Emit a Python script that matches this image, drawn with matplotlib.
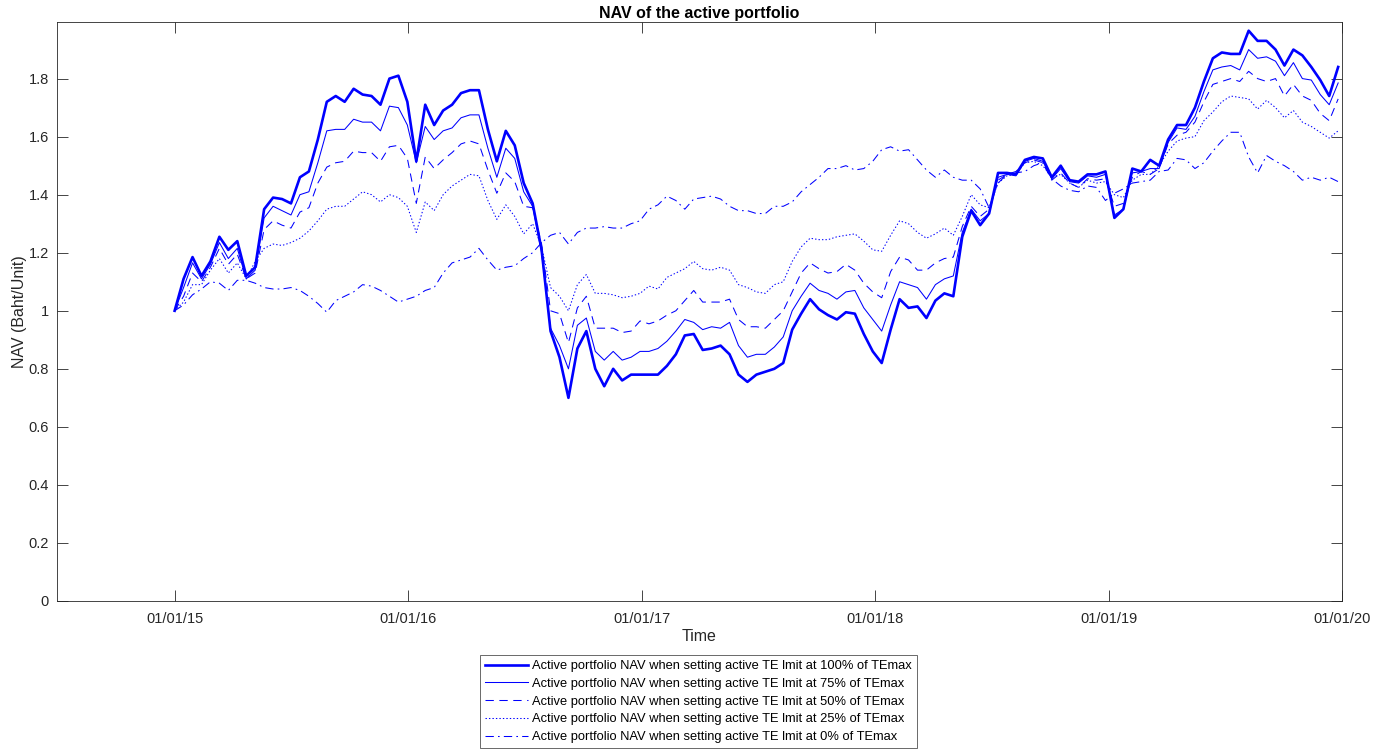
import numpy as np
import pandas as pd
import matplotlib
matplotlib.use("Agg")
import matplotlib.pyplot as plt
import matplotlib.dates as mdates

plt.rcParams["font.family"] = ["Liberation Sans", "DejaVu Sans"]
plt.rcParams["lines.scale_dashes"] = False

# fortnightly NAV observations
dates = pd.date_range("2015-01-01", periods=131, freq="14D")

nav_100 = [1.00, 1.11, 1.185, 1.12, 1.17, 1.255, 1.21, 1.24, 1.12, 1.15,
           1.35, 1.39, 1.385, 1.37, 1.46, 1.48, 1.59, 1.72, 1.74, 1.72,
           1.765, 1.745, 1.74, 1.71, 1.80, 1.81, 1.72, 1.515, 1.71, 1.64,
           1.69, 1.71, 1.75, 1.76, 1.76, 1.625, 1.515, 1.62, 1.57, 1.44,
           1.37, 1.21, 0.93, 0.84, 0.70, 0.87, 0.93, 0.80, 0.74, 0.80,
           0.76, 0.78, 0.78, 0.78, 0.78, 0.81, 0.85, 0.915, 0.92, 0.865,
           0.87, 0.88, 0.85, 0.78, 0.755, 0.78, 0.79, 0.80, 0.82, 0.935,
           0.99, 1.04, 1.005, 0.985, 0.97, 0.995, 0.99, 0.92, 0.86, 0.82,
           0.935, 1.04, 1.01, 1.015, 0.975, 1.035, 1.06, 1.05, 1.255, 1.345,
           1.295, 1.335, 1.475, 1.475, 1.47, 1.52, 1.53, 1.525, 1.46, 1.50,
           1.45, 1.445, 1.47, 1.47, 1.48, 1.32, 1.35, 1.49, 1.48, 1.52,
           1.50, 1.59, 1.64, 1.64, 1.70, 1.79, 1.87, 1.89, 1.885, 1.885,
           1.965, 1.93, 1.93, 1.90, 1.845, 1.90, 1.88, 1.84, 1.795, 1.74,
           1.84]

nav_75 = [1.00, 1.08, 1.165, 1.11, 1.16, 1.235, 1.18, 1.215, 1.11, 1.14,
          1.32, 1.36, 1.345, 1.33, 1.40, 1.41, 1.51, 1.62, 1.625, 1.625,
          1.66, 1.65, 1.65, 1.62, 1.705, 1.70, 1.64, 1.51, 1.635, 1.59,
          1.62, 1.63, 1.665, 1.675, 1.675, 1.56, 1.46, 1.56, 1.525, 1.41,
          1.36, 1.20, 0.94, 0.88, 0.80, 0.95, 0.975, 0.86, 0.83, 0.86,
          0.83, 0.84, 0.86, 0.86, 0.87, 0.895, 0.93, 0.97, 0.96, 0.935,
          0.945, 0.94, 0.96, 0.88, 0.84, 0.85, 0.85, 0.875, 0.91, 1.00,
          1.05, 1.095, 1.07, 1.06, 1.04, 1.065, 1.07, 1.01, 0.97, 0.93,
          1.02, 1.10, 1.09, 1.08, 1.04, 1.09, 1.11, 1.12, 1.27, 1.35,
          1.31, 1.335, 1.46, 1.47, 1.465, 1.515, 1.525, 1.515, 1.455, 1.49,
          1.445, 1.44, 1.465, 1.46, 1.47, 1.33, 1.35, 1.475, 1.48, 1.49,
          1.49, 1.58, 1.63, 1.625, 1.67, 1.755, 1.83, 1.84, 1.845, 1.83,
          1.90, 1.87, 1.875, 1.86, 1.81, 1.855, 1.80, 1.795, 1.745, 1.71,
          1.785]

nav_50 = [1.00, 1.05, 1.13, 1.10, 1.15, 1.215, 1.16, 1.195, 1.11, 1.13,
          1.28, 1.31, 1.295, 1.285, 1.34, 1.355, 1.44, 1.495, 1.51, 1.515,
          1.55, 1.545, 1.545, 1.515, 1.565, 1.57, 1.525, 1.37, 1.53, 1.49,
          1.52, 1.545, 1.575, 1.585, 1.575, 1.485, 1.405, 1.475, 1.445, 1.36,
          1.355, 1.23, 1.00, 0.99, 0.89, 1.01, 1.05, 0.94, 0.94, 0.94,
          0.925, 0.93, 0.965, 0.955, 0.965, 0.985, 1.00, 1.035, 1.07, 1.03,
          1.03, 1.03, 1.04, 0.97, 0.945, 0.945, 0.94, 0.97, 1.00, 1.065,
          1.13, 1.165, 1.145, 1.13, 1.135, 1.16, 1.14, 1.095, 1.065, 1.045,
          1.135, 1.185, 1.175, 1.14, 1.14, 1.165, 1.18, 1.185, 1.29, 1.36,
          1.325, 1.35, 1.45, 1.47, 1.48, 1.51, 1.52, 1.51, 1.45, 1.475,
          1.44, 1.425, 1.455, 1.45, 1.455, 1.36, 1.37, 1.46, 1.48, 1.47,
          1.49, 1.575, 1.605, 1.615, 1.65, 1.72, 1.78, 1.79, 1.80, 1.79,
          1.825, 1.80, 1.79, 1.80, 1.74, 1.78, 1.74, 1.725, 1.68, 1.655,
          1.73]

nav_25 = [1.00, 1.03, 1.09, 1.09, 1.14, 1.18, 1.13, 1.165, 1.11, 1.17,
          1.215, 1.23, 1.225, 1.235, 1.25, 1.275, 1.31, 1.35, 1.36, 1.36,
          1.385, 1.41, 1.40, 1.375, 1.40, 1.39, 1.36, 1.27, 1.375, 1.345,
          1.40, 1.43, 1.45, 1.47, 1.465, 1.38, 1.315, 1.365, 1.325, 1.265,
          1.30, 1.22, 1.08, 1.05, 1.00, 1.09, 1.125, 1.06, 1.06, 1.055,
          1.045, 1.05, 1.06, 1.085, 1.075, 1.115, 1.13, 1.145, 1.17, 1.145,
          1.14, 1.15, 1.14, 1.09, 1.08, 1.065, 1.06, 1.09, 1.10, 1.17,
          1.22, 1.25, 1.245, 1.245, 1.255, 1.26, 1.265, 1.24, 1.21, 1.205,
          1.26, 1.31, 1.30, 1.27, 1.25, 1.265, 1.285, 1.26, 1.325, 1.40,
          1.365, 1.355, 1.44, 1.465, 1.47, 1.51, 1.515, 1.50, 1.46, 1.47,
          1.44, 1.425, 1.45, 1.44, 1.445, 1.40, 1.39, 1.45, 1.47, 1.47,
          1.50, 1.55, 1.585, 1.595, 1.60, 1.655, 1.685, 1.72, 1.74, 1.735,
          1.73, 1.695, 1.725, 1.70, 1.665, 1.69, 1.65, 1.635, 1.615, 1.595,
          1.62]

nav_0 = [1.00, 1.02, 1.055, 1.075, 1.10, 1.095, 1.07, 1.105, 1.105, 1.095,
         1.08, 1.075, 1.075, 1.08, 1.07, 1.05, 1.025, 0.995, 1.035, 1.05,
         1.065, 1.09, 1.085, 1.07, 1.05, 1.03, 1.04, 1.05, 1.07, 1.08,
         1.13, 1.165, 1.175, 1.185, 1.215, 1.175, 1.14, 1.15, 1.155, 1.18,
         1.20, 1.235, 1.26, 1.27, 1.23, 1.27, 1.285, 1.285, 1.29, 1.285,
         1.285, 1.30, 1.31, 1.35, 1.365, 1.395, 1.38, 1.35, 1.385, 1.39,
         1.395, 1.385, 1.36, 1.345, 1.345, 1.335, 1.335, 1.36, 1.36, 1.375,
         1.41, 1.435, 1.46, 1.49, 1.49, 1.50, 1.485, 1.49, 1.515, 1.555,
         1.565, 1.55, 1.555, 1.52, 1.485, 1.46, 1.485, 1.46, 1.45, 1.45,
         1.42, 1.355, 1.44, 1.47, 1.475, 1.48, 1.50, 1.51, 1.455, 1.43,
         1.415, 1.41, 1.43, 1.425, 1.38, 1.405, 1.42, 1.44, 1.445, 1.45,
         1.48, 1.485, 1.525, 1.52, 1.49, 1.51, 1.55, 1.585, 1.615, 1.615,
         1.53, 1.475, 1.535, 1.515, 1.50, 1.48, 1.45, 1.46, 1.45, 1.46,
         1.445]

te_levels = ["100%", "75%", "50%", "25%", "0%"]
series = [nav_100, nav_75, nav_50, nav_25, nav_0]

styles = [
    dict(linestyle="-", linewidth=1.9),
    dict(linestyle="-", linewidth=0.75),
    dict(linestyle=(0, (6, 4)), linewidth=0.75),
    dict(linestyle=(0, (1, 1.5)), linewidth=0.75),
    dict(linestyle=(0, (6, 3, 1.2, 3)), linewidth=0.75),
]

fig = plt.figure(figsize=(13.89, 7.52), dpi=100)
ax = fig.add_axes([57 / 1389, 1 - 601 / 752, 1285 / 1389, 579 / 752])

for vals, lvl, st in zip(series, te_levels, styles):
    ax.plot(dates, vals, color="#0000ff",
            label=f"Active portfolio NAV when setting active TE lmit at {lvl} of TEmax",
            **st)

ax.set_xlim(pd.Timestamp("2014-07-01"), pd.Timestamp("2020-01-01"))
ax.set_ylim(0, 1.995)
ax.set_yticks(np.arange(0, 1.81, 0.2))
ax.set_yticklabels(["0", "0.2", "0.4", "0.6", "0.8", "1", "1.2", "1.4", "1.6", "1.8"])
ax.set_xticks(pd.date_range("2015-01-01", "2020-01-01", freq="YS"))
ax.xaxis.set_major_formatter(mdates.DateFormatter("%m/%d/%y"))

ax.tick_params(direction="in", length=8, width=0.6, top=True, right=True,
               labelsize=10.5, colors="#262626")
ax.tick_params(axis="x", pad=8)
ax.tick_params(axis="y", pad=6)
for sp in ax.spines.values():
    sp.set_color("#262626")
    sp.set_linewidth(0.6)

ax.set_title("NAV of the active portfolio", fontsize=11.5, fontweight="bold", pad=3)
ax.set_xlabel("Time", fontsize=11.5, color="#262626", labelpad=2)
ax.set_ylabel("NAV (Baht/Unit)", fontsize=11.5, color="#262626", labelpad=1)

leg = fig.legend(loc="upper center", bbox_to_anchor=(698.5 / 1389, 1 - 655 / 752),
                 fontsize=9.3, frameon=True, fancybox=False, handlelength=3.3,
                 handletextpad=0.35, labelspacing=0.44, borderpad=0.4,
                 borderaxespad=0)
leg.get_frame().set_edgecolor("#262626")
leg.get_frame().set_linewidth(0.6)

fig.savefig("out.png", dpi=100)
